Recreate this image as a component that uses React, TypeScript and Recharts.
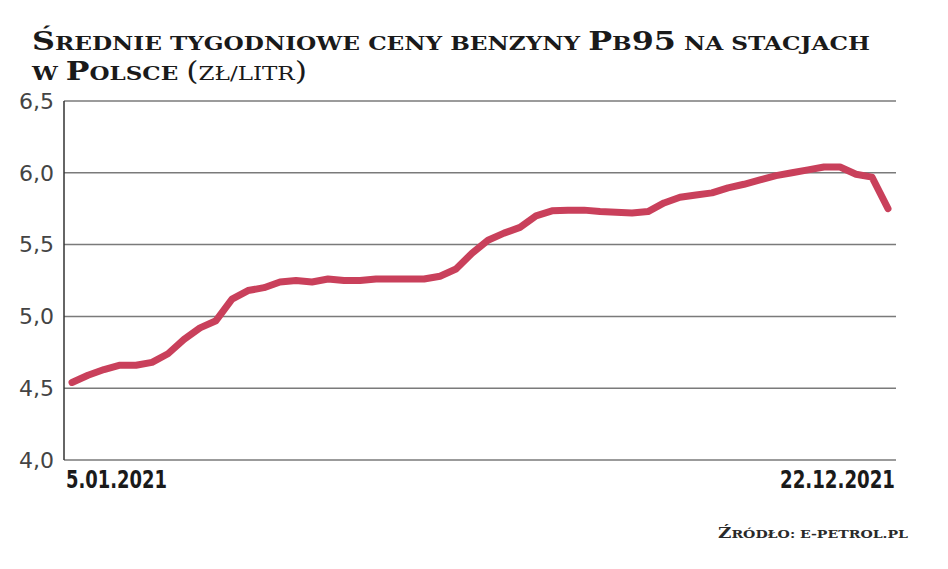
import React from 'react';
import { LineChart, Line, XAxis, YAxis, CartesianGrid } from 'recharts';

// weekly average Pb95 prices, 5.01.2021 - 22.12.2021
const prices = [
  4.54, 4.59, 4.63, 4.66, 4.66, 4.68, 4.74, 4.84, 4.92, 4.97,
  5.12, 5.18, 5.2, 5.24, 5.25, 5.24, 5.26, 5.25, 5.25, 5.26,
  5.26, 5.26, 5.26, 5.28, 5.33, 5.44, 5.53, 5.58, 5.62, 5.7,
  5.735, 5.74, 5.74, 5.73, 5.725, 5.72, 5.73, 5.79, 5.83, 5.845,
  5.86, 5.895, 5.92, 5.95, 5.98, 6.0, 6.02, 6.04, 6.04, 5.99,
  5.97, 5.75,
];
const dateLabels = ['5.01.2021', '22.12.2021'];
const yTicks = [4.0, 4.5, 5.0, 5.5, 6.0, 6.5];

// title runs: big = capital height, small = small caps
const titleLine1 = [
  { t: 'Ś', big: true }, { t: 'rednie tygodniowe ceny benzyny ', big: false },
  { t: 'P', big: true }, { t: 'b', big: false }, { t: '95', big: true },
  { t: ' na stacjach', big: false },
];
const titleLine2 = [
  { t: 'w ', big: false }, { t: 'P', big: true }, { t: 'olsce ', big: false },
  { t: '(', big: true, light: true }, { t: 'zł/litr', big: false, light: true },
  { t: ')', big: true, light: true },
];
const sourceRuns = [{ t: 'Ź', big: true }, { t: 'ródło: e-petrol.pl', big: false }];

const chartData = prices.map((price, i) => ({ week: i, price }));

const serif = "'DejaVu Serif', serif";
const sans = "'DejaVu Sans', sans-serif";

const SmallCaps = ({ runs, bigSize, smallSize }: any) =>
  runs.map((r: any, i: number) => (
    <tspan
      key={i}
      style={{
        fontFamily: serif,
        fontSize: r.big ? bigSize : smallSize,
        fontWeight: r.light ? 400 : 700,
        textTransform: 'uppercase',
      }}
    >
      {r.t}
    </tspan>
  ));

const DateTick = ({ x, y, payload }: any) => {
  const first = payload.value === 0;
  return (
    <text
      x={first ? x - 6 : x + 7}
      y={y + 28}
      textAnchor={first ? 'start' : 'end'}
      fill="#1a1a1a"
      textLength={first ? 101 : 115}
      lengthAdjust="spacingAndGlyphs"
      style={{ fontFamily: sans, fontSize: 25, fontWeight: 600 }}
    >
      {first ? dateLabels[0] : dateLabels[1]}
    </text>
  );
};

const App = () => {
  return (
    <div style={{ position: 'absolute', left: 0, top: 0, width: 948, height: 569, background: '#fff' }}>
      <LineChart
        width={948}
        height={569}
        data={chartData}
        margin={{ top: 101, right: 52, left: 0, bottom: 0 }}
      >
        <CartesianGrid vertical={false} stroke="#7a7a7a" strokeWidth={1.5} />
        <XAxis
          dataKey="week"
          type="number"
          domain={[0, prices.length - 1]}
          ticks={[0, prices.length - 1]}
          padding={{ left: 8, right: 8 }}
          axisLine={false}
          tickLine={false}
          tickSize={0}
          tickMargin={0}
          height={109}
          tick={<DateTick />}
        />
        <YAxis
          domain={[4, 6.5]}
          ticks={yTicks}
          width={64}
          axisLine={{ stroke: '#333', strokeWidth: 1.5 }}
          tickLine={false}
          tickSize={0}
          tickMargin={10}
          tickFormatter={(v: number) => v.toFixed(1).replace('.', ',')}
          tick={{ fill: '#444', fontSize: 22, fontFamily: sans, fontWeight: 400 }}
        />
        <Line
          type="linear"
          dataKey="price"
          stroke="#c9405b"
          strokeWidth={7}
          strokeLinejoin="round"
          strokeLinecap="round"
          dot={false}
          isAnimationActive={false}
        />
      </LineChart>
      <svg
        width={948}
        height={569}
        style={{ position: 'absolute', left: 0, top: 0, pointerEvents: 'none' }}
      >
        <text x={32} y={50} fill="#1a1a1a" textLength={838} lengthAdjust="spacingAndGlyphs">
          <SmallCaps runs={titleLine1} bigSize={26} smallSize={19} />
        </text>
        <text x={32} y={80} fill="#1a1a1a" textLength={275} lengthAdjust="spacingAndGlyphs">
          <SmallCaps runs={titleLine2} bigSize={26} smallSize={19} />
        </text>
        <text x={718} y={538} fill="#2a2a2a" textLength={190} lengthAdjust="spacingAndGlyphs">
          <SmallCaps runs={sourceRuns} bigSize={15} smallSize={11.5} />
        </text>
      </svg>
    </div>
  );
};

export default App;
